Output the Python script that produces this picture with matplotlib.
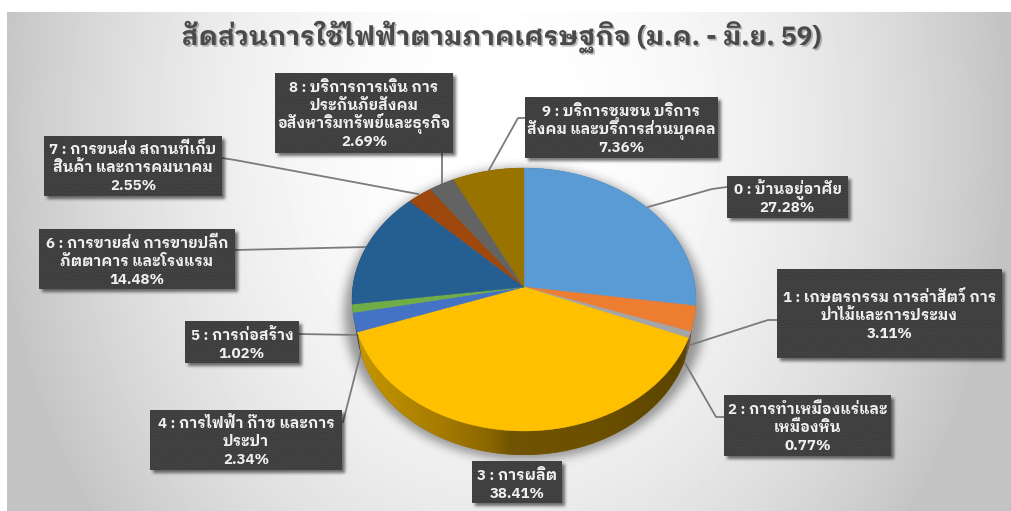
"""Electricity use by economic sector, Jan-Jun 2559: 3D-style pie with callouts."""
import numpy as np
import matplotlib
matplotlib.use("Agg")
import matplotlib.pyplot as plt
import matplotlib.patheffects as pe
from matplotlib.colors import to_rgb
from matplotlib.patches import Polygon, Rectangle

TITLE = "สัดส่วนการใช้ไฟฟ้าตามภาคเศรษฐกิจ (ม.ค. - มิ.ย. 59)"

shares = [27.28, 3.11, 0.77, 38.41, 2.34, 1.02, 14.48, 2.55, 2.69, 7.36]
sector_lines = [
    ["0 : บ้านอยู่อาศัย"],
    ["1 : เกษตรกรรม การล่าสัตว์ การ", "ป่าไม้และการประมง"],
    ["2 : การทำเหมืองแร่และ", "เหมืองหิน"],
    ["3 : การผลิต"],
    ["4 : การไฟฟ้า ก๊าซ และการ", "ประปา"],
    ["5 : การก่อสร้าง"],
    ["6 : การขายส่ง การขายปลีก", "ภัตตาคาร และโรงแรม"],
    ["7 : การขนส่ง สถานที่เก็บ", "สินค้า และการคมนาคม"],
    ["8 : บริการการเงิน การ", "ประกันภัยสังคม", "อสังหาริมทรัพย์และธุรกิจ"],
    ["9 : บริการชุมชน บริการ", "สังคม และบริการส่วนบุคคล"],
]
slice_colors = ["#5b9bd5", "#ed7d31", "#a5a5a5", "#ffc000", "#4472c4",
                "#70ad47", "#255e91", "#9e480e", "#636363", "#997300"]

# callout boxes as (left, top, right, bottom) in figure pixels
boxes = [(727, 176, 848, 218), (777, 269, 1002, 358), (724, 395, 891, 456),
         (472, 461, 562, 503), (150, 410, 342, 470), (185, 321, 299, 363),
         (39, 229, 235, 289), (44, 136, 222, 196), (275, 73, 453, 153),
         (525, 97, 718, 158)]
leaders = [
    [(648, 207), (712, 189), (727, 187)],
    [(690, 345), (768, 320), (777, 320)],
    [(685, 363), (716, 417), (724, 417)],
    [],
    [(361, 352), (343, 422)],
    [(299, 334), (358, 335)],
    [(235, 250), (367, 247)],
    [(222, 158), (235, 160), (418, 194)],
    [(442, 153), (442, 184)],
    [(525, 118), (518, 118), (489, 170)],
]

W, H = 1011, 511
CX, CY = 524, 287       # pie apex
RX, RY = 171.2, 130.3   # projected radii
TILT = 0.095            # perspective strength, far edge looks smaller
DEPTH = 24
FONT = ["IBM Plex Sans Thai Looped", "Noto Sans Thai Looped", "DejaVu Sans"]


def rim(a0, a1):
    """Pie rim between two clockwise angles from 12 o'clock (degrees)."""
    t = np.radians(np.linspace(a0, a1, max(int(a1 - a0) * 2, 4)))
    w = 1 + TILT * np.cos(t)
    return CX + RX * np.sin(t) / w, CY - RY * np.cos(t) / w


def wall(a0, a1):
    """Outer side wall of a slice, the lower rim sits slightly narrower."""
    x, y = rim(a0, a1)
    xb = CX + (x - CX) * 0.975
    return np.r_[x, xb[::-1]], np.r_[y, (y + DEPTH)[::-1]]


def blur(img, sigma):
    r = int(3 * sigma)
    k = np.exp(-0.5 * (np.arange(-r, r + 1) / sigma) ** 2)
    k /= k.sum()
    img = np.apply_along_axis(np.convolve, 0, img, k, mode="same")
    return np.apply_along_axis(np.convolve, 1, img, k, mode="same")


def shadow_layer(ax, mask, alpha, z):
    rgba = np.zeros((H, W, 4))
    rgba[..., 3] = np.clip(mask, 0, 1) * alpha
    ax.imshow(rgba, extent=(0, W, H, 0), zorder=z, interpolation="bilinear", aspect="auto")


plt.rcParams["hatch.linewidth"] = 0.6

fig = plt.figure(figsize=(W / 100, H / 100), dpi=100, facecolor="white")
ax = fig.add_axes([0, 0, 1, 1])

# panel background, bright in the upper middle and grey toward the sides
yy, xx = np.mgrid[0:H, 0:W]
r2 = ((xx - 500) / 510.0) ** 2 + ((yy - 130) / 650.0) ** 2
bg = (255 - 60 * np.minimum(r2, 1.0)) / 255.0
bg[:12, :] = 1.0
bg[:, :7] = 1.0
ax.imshow(bg, cmap="gray", vmin=0, vmax=1, extent=(0, W, H, 0), zorder=0, aspect="auto")

# soft shadow under the pie
ny = (yy - (CY + 12 + DEPTH * 0.6)) / (RY + DEPTH * 0.5 + 4)
nx = (xx - CX) / (RX + 9)
shadow_layer(ax, blur((nx ** 2 + ny ** 2 < 1).astype(float), 5), 0.38, 1)

# leader lines run under the pie and the boxes
for pts in leaders:
    if pts:
        px, py = zip(*pts)
        ax.plot(px, py, color="#7b7b7b", lw=1.3, zorder=2, solid_joinstyle="round")

# slices from the shares, clockwise from the top
edges = np.r_[0, np.cumsum(shares)] / np.sum(shares) * 360

# side walls first, the big wedge on top with a shaded wall
for i in np.argsort(shares):
    xw, yw = wall(edges[i], edges[i + 1])
    col = np.array(to_rgb(slice_colors[i])) * 0.55
    patch = Polygon(np.c_[xw, yw], closed=True, fc=col, ec="none", zorder=3)
    ax.add_patch(patch)
    if i == 3:
        stops_x = [357, 440, 490, 510, 600, 690]
        stops_c = np.array([to_rgb(c) for c in
                            ["#c69600", "#a67c00", "#8a6600", "#715400", "#6b5000", "#5a4300"]])
        grad = np.stack([np.interp(np.arange(W), stops_x, stops_c[:, k]) for k in range(3)], axis=-1)
        im = ax.imshow(grad[None, :, :], extent=(0, W, H, 0), zorder=3.1, aspect="auto")
        im.set_clip_path(patch)

for i, color in enumerate(slice_colors):
    xr, yr = rim(edges[i], edges[i + 1])
    ax.add_patch(Polygon(np.c_[np.r_[CX, xr], np.r_[CY, yr]], closed=True, fc=color,
                         ec=color, lw=0.3, zorder=4))

# callouts
box_mask = np.zeros((H, W))
for l, t, r, b in boxes:
    box_mask[t + 3:b + 3, l + 3:r + 3] = 1.0
shadow_layer(ax, blur(box_mask, 1.6), 0.55, 5)

for (l, t, r, b), lines, val in zip(boxes, sector_lines, shares):
    ax.add_patch(Rectangle((l, t), r - l, b - t, fc="#3d3d3d", ec="#4b4b4b",
                           lw=0, hatch=".......", zorder=6))
    rows = lines + [f"{val:.2f}%"]
    mid = (t + b) / 2 + 6.5
    for j, row in enumerate(rows):
        ax.text((l + r) / 2, mid + (j - (len(rows) - 1) / 2) * 18, row, family=FONT,
                weight="bold", fontsize=10.8, color="#f0f0f0", ha="center", va="baseline", zorder=7)

ax.text(501, 45, TITLE, family=FONT, weight="bold", fontsize=19, color="#4a4a4a",
        ha="center", va="baseline", zorder=7,
        path_effects=[pe.SimplePatchShadow(offset=(1.2, -1.2), shadow_rgbFace="#000000", alpha=0.25),
                      pe.Normal()])

ax.set_xlim(0, W)
ax.set_ylim(H, 0)
ax.axis("off")
fig.savefig("out.png", dpi=100)
